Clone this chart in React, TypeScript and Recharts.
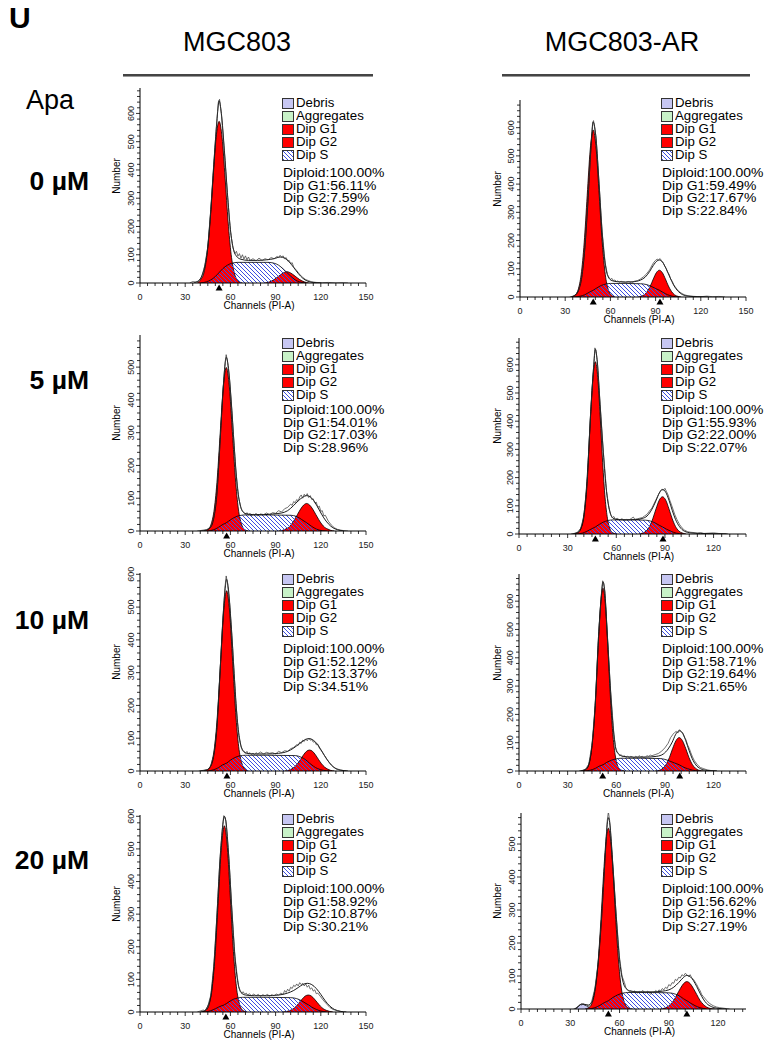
import React from 'react'
import { Area, ComposedChart, Line, ReferenceDot, XAxis, YAxis } from 'recharts'

type Pt = [number, number]

// MGC803, 0 µM  — [channel, count]
const mgc0G1: Pt[] = [[38,0],[40,10],[42.5,38],[44.5,101],[46.5,216],[48.5,371],[50.5,514],[52.5,572],[54.5,514],[56.5,371],[58.5,216],[60.5,101],[62.5,38],[65,8],[68,0]]
const mgc0G2: Pt[] = [[83,0],[86,4],[89,12],[91.5,22],[94,32],[96,38],[97.5,40],[99,38],[101,32],[103.5,22],[106,12],[109,4],[112,0]]
const mgc0S: Pt[] = [[40,0],[44,4],[47,11],[50,23],[52.5,37],[55,51],[58,63],[61,70],[65,73],[75,73],[85,73],[89,70],[92,63],[95,50],[97.5,37],[100,24],[103,11],[106,4],[110,0]]
const mgc0Fit: Pt[] = [[36,2],[39,8],[41,25],[43,60],[45,130],[47,260],[49,420],[51,570],[52.5,645],[54,600],[56,470],[58,320],[60,190],[62,120],[64,95],[67,84],[72,80],[78,80],[84,82],[89,86],[93,92],[96,88],[99,75],[102,55],[105,34],[108,17],[111,7],[115,2],[120,0]]
const mgc0Raw: Pt[] = [[33,0],[35,5],[37,3],[39,8],[41,22],[43,62],[45,128],[47,262],[49,425],[51,575],[52,640],[52.8,650],[54,598],[56,465],[58,315],[60,185],[61.5,128],[63,104],[64,112],[65,95],[66,104],[67,88],[68,100],[69,85],[70,96],[71,82],[72,92],[73,80],[75,86],[77,78],[79,88],[81,80],[83,86],[85,82],[87,90],[89,86],[91,94],[92,90],[93,98],[94,92],[95,96],[96,86],[97,90],[98,78],[99,80],[100,68],[101,72],[102,56],[104,44],[106,30],[108,20],[110,12],[112,8],[114,4],[117,2],[121,1],[125,2],[130,0],[134,1],[138,0]]
const mgc0Marks = [52.5]
const mgc0Stats = ['Diploid:100.00%', 'Dip G1:56.11%', 'Dip G2:7.59%', 'Dip S:36.29%']

// MGC803-AR, 0 µM
const ar0G1: Pt[] = [[34,0],[36.6,7],[38.6,26],[40.6,80],[42.6,192],[44.6,359],[46.6,522],[48.6,592],[50.6,522],[52.6,359],[54.6,192],[56.6,80],[58.6,26],[60.6,7],[63,0]]
const ar0G2: Pt[] = [[78,0],[80.5,3],[82.5,8],[84.5,20],[86.5,39],[88.5,64],[90.5,86],[92.5,95],[94.5,86],[96.5,64],[98.5,39],[100.5,20],[102.5,8],[105,2],[107,0]]
const ar0S: Pt[] = [[36,0],[40,3],[43,8],[46,17],[48.6,24],[51,32],[54,41],[57,46],[60,48],[70,48],[80,47],[84,44],[87,38],[90,30],[92.5,24],[95,16],[98,8],[101,3],[105,0]]
const ar0Fit: Pt[] = [[34,0],[37,8],[39,25],[41,70],[43,170],[45,330],[47,520],[48.6,620],[50.5,560],[52.5,400],[54.5,230],[56.5,120],[58.5,72],[61,58],[65,54],[70,53],[75,54],[80,60],[83,70],[86,90],[88.5,112],[91,128],[92.5,131],[94.5,124],[97,100],[99.5,70],[102,42],[105,20],[108,8],[112,3],[118,1],[125,0]]
const ar0Raw: Pt[] = [[33,0],[35,3],[37,8],[39,25],[41,72],[43,172],[45,335],[47,525],[48.2,618],[48.8,625],[50.5,565],[52.5,400],[54.5,232],[56.5,122],[58,80],[59,70],[60,62],[61,66],[62,58],[63,60],[64,55],[65,57],[66,52],[67,56],[68,54],[70,52],[72,55],[74,50],[76,56],[78,58],[80,64],[82,72],[84,82],[86,96],[88,116],[89,124],[90,130],[91,134],[92,132],[93,136],[94,128],[95,122],[96,110],[97,102],[98,88],[99,80],[100,64],[101,56],[102,44],[103,36],[105,22],[107,14],[109,8],[111,5],[113,3],[116,2],[120,1],[124,3],[128,1],[132,2],[136,0]]
const ar0Marks = [48.6, 92.9]
const ar0Stats = ['Diploid:100.00%', 'Dip G1:59.49%', 'Dip G2:17.67%', 'Dip S:22.84%']

// MGC803, 5 µM
const mgc5G1: Pt[] = [[43,0],[45.3,5],[47.3,22],[49.3,67],[51.3,162],[53.3,303],[55.3,440],[57.3,499],[59.3,440],[61.3,303],[63.3,162],[65.3,67],[67.3,22],[69.3,5],[72,0]]
const mgc5G2: Pt[] = [[92,0],[94.6,2],[96.6,6],[98.6,11],[100.6,21],[102.6,35],[104.6,51],[106.6,67],[108.6,79],[110.6,84],[112.6,79],[114.6,67],[116.6,51],[118.6,35],[120.6,21],[122.6,11],[124.6,6],[126.6,2],[129,0]]
const mgc5S: Pt[] = [[45,0],[49,4],[52,11],[55,20],[57.3,25],[60,34],[63,42],[66,47],[70,49],[85,49],[100,48],[104,44],[107,36],[110.6,25],[114,14],[117,6],[121,1],[124,0]]
const mgc5Fit: Pt[] = [[40,0],[44,3],[47,12],[49,40],[51,110],[53,260],[55,420],[56.5,510],[57.3,530],[58.5,505],[60.5,400],[62.5,260],[64.5,140],[66.5,80],[68.5,58],[71,52],[76,50],[82,50],[88,52],[94,55],[98,62],[102,78],[105,92],[108,103],[110.6,108],[113,104],[116,88],[119,64],[122,40],[125,22],[128,10],[131,4],[135,0]]
const mgc5Raw: Pt[] = [[38,0],[41,2],[44,4],[47,12],[49,42],[51,112],[53,262],[55,425],[56.5,515],[57.2,538],[58,520],[59.5,460],[61.5,330],[63.5,190],[65.5,100],[67,70],[68,60],[69,55],[70,50],[71,56],[72,48],[73,54],[74,45],[75,52],[76,48],[77,54],[78,46],[80,52],[82,50],[84,55],[86,50],[88,56],[90,54],[92,62],[94,58],[96,68],[98,72],[100,82],[101,78],[102,90],[103,86],[104,96],[105,92],[106,104],[107,110],[108,100],[109,112],[110,106],[111,114],[112,102],[113,108],[114,96],[115,98],[116,86],[117,88],[118,72],[119,76],[120,60],[121,62],[122,46],[123,48],[125,30],[127,18],[129,10],[131,5],[134,2],[138,0]]
const mgc5Marks = [57.5]
const mgc5Stats = ['Diploid:100.00%', 'Dip G1:54.01%', 'Dip G2:17.03%', 'Dip S:28.96%']

// MGC803-AR, 5 µM
const ar5G1: Pt[] = [[34,0],[36.6,5],[38.1,18],[39.6,54],[41.1,128],[42.6,254],[44.1,414],[45.6,554],[47.1,611],[48.6,554],[50.1,414],[51.6,254],[53.1,128],[54.6,54],[56.1,18],[57.6,5],[60,0]]
const ar5G2: Pt[] = [[74,0],[76.5,4],[78.5,11],[80.5,27],[82.5,54],[84.5,89],[86.5,120],[88.5,132],[90.5,120],[92.5,89],[94.5,54],[96.5,27],[98.5,11],[100.5,4],[103,0]]
const ar5S: Pt[] = [[36,0],[39,3],[42,10],[45,19],[47.1,25],[49.5,34],[52,42],[55,48],[58,50],[70,50],[78,49],[81,46],[84,39],[86.5,31],[88.5,25],[91,17],[94,9],[97,3],[101,0]]
const ar5Fit: Pt[] = [[33,0],[36,5],[38,18],[40,60],[42,180],[44,410],[46,590],[47.1,655],[48.3,610],[50,460],[52,290],[54,150],[56,80],[58,56],[61,51],[66,50],[72,51],[76,55],[79,64],[82,88],[84.5,118],[86.5,145],[88.5,158],[90.5,148],[92.5,120],[94.5,84],[96.5,52],[99,26],[102,10],[106,4],[112,2],[120,1],[128,0]]
const ar5Raw: Pt[] = [[32,0],[34,2],[36,6],[38,20],[40,62],[42,182],[44,412],[46,592],[46.8,660],[47.4,652],[48.3,612],[50,462],[52,292],[54,152],[55.5,92],[56.5,70],[57.5,58],[58.5,62],[59.5,52],[60.5,56],[62,50],[63.5,54],[65,48],[66.5,52],[68,50],[69.5,56],[70.5,60],[71.5,52],[73,54],[74.5,56],[76,58],[77.5,64],[79,70],[80.5,82],[82,92],[83.5,110],[85,128],[86,140],[87,150],[88,158],[89,155],[90,162],[91,150],[92,138],[93,120],[94.5,96],[96,70],[97.5,50],[99,34],[100.5,22],[102,14],[104,8],[106,6],[108,5],[110,3],[112,5],[114,2],[117,3],[120,4],[123,2],[126,1],[129,0]]
const ar5Marks = [47.1, 88.8]
const ar5Stats = ['Diploid:100.00%', 'Dip G1:55.93%', 'Dip G2:22.00%', 'Dip S:22.07%']

// MGC803, 10 µM
const mgc10G1: Pt[] = [[43,0],[45.5,6],[47.5,25],[49.5,74],[51.5,178],[53.5,333],[55.5,485],[57.5,550],[59.5,485],[61.5,333],[63.5,178],[65.5,74],[67.5,25],[69.5,6],[72,0]]
const mgc10G2: Pt[] = [[96,0],[98.5,2],[100.5,6],[102.5,12],[104.5,22],[106.5,35],[108.5,49],[110.5,60],[112.5,64],[114.5,60],[116.5,49],[118.5,35],[120.5,22],[122.5,12],[124.5,6],[126.5,2],[129,0]]
const mgc10S: Pt[] = [[45,0],[49,4],[52,10],[55,19],[57.5,24],[60,33],[63,41],[66,46],[70,48],[85,48],[103,47],[107,42],[110,34],[112.5,24],[115,15],[118,7],[122,2],[126,0]]
const mgc10Fit: Pt[] = [[40,0],[44,3],[47,15],[49,48],[51,128],[53,290],[55,460],[56.7,565],[57.5,585],[58.5,562],[60.5,448],[62.5,297],[64.5,160],[66.5,88],[68.5,62],[71,54],[76,52],[84,52],[92,54],[98,60],[102,70],[106,84],[109,94],[112,99],[115,94],[118,80],[121,58],[124,36],[127,18],[130,7],[134,2],[138,0]]
const mgc10Raw: Pt[] = [[39,0],[42,2],[45,5],[47,15],[49,50],[51,130],[53,293],[55,465],[56.5,565],[57.2,595],[58,575],[59.5,510],[61.5,375],[63.5,215],[65.5,108],[67,74],[68,62],[69,58],[70,54],[71,60],[72,52],[73,56],[74,50],[75,55],[76,50],[77,56],[78,52],[80,58],[82,52],[84,57],[86,54],[88,56],[90,52],[92,60],[94,56],[96,62],[98,60],[100,68],[102,72],[104,80],[105,78],[106,88],[107,84],[108,94],[109,90],[110,98],[111,92],[112,100],[113,94],[114,96],[115,88],[116,90],[117,80],[118,82],[119,70],[120,64],[121,58],[122,50],[124,36],[126,24],[128,14],[130,8],[133,3],[137,0]]
const mgc10Marks = [57.7]
const mgc10Stats = ['Diploid:100.00%', 'Dip G1:52.12%', 'Dip G2:13.37%', 'Dip S:34.51%']

// MGC803-AR, 10 µM
const ar10G1: Pt[] = [[38,0],[41.3,5],[42.8,19],[44.3,57],[45.8,136],[47.3,269],[48.8,437],[50.3,586],[51.8,646],[53.3,586],[54.8,437],[56.3,269],[57.8,136],[59.3,57],[60.8,19],[62.3,5],[65,0]]
const ar10G2: Pt[] = [[84,0],[86.8,3],[88.8,10],[90.8,24],[92.8,48],[94.8,80],[96.8,107],[98.8,118],[100.8,107],[102.8,80],[104.8,48],[106.8,24],[108.8,10],[110.8,3],[114,0]]
const ar10S: Pt[] = [[40,0],[44,3],[47,9],[49.5,17],[51.8,22],[54,30],[57,38],[60,43],[63,45],[75,45],[87,44],[90,41],[93,35],[96,28],[98.8,22],[101,15],[104,8],[107,3],[111,0]]
const ar10Fit: Pt[] = [[38,0],[41,6],[43,22],[45,90],[47,230],[49,470],[50.8,620],[51.8,668],[52.8,640],[54.5,480],[56.5,280],[58.5,130],[60,72],[61.5,60],[64,52],[70,49],[78,49],[85,52],[89,60],[92,78],[94.5,102],[96.5,128],[98.8,142],[100.8,135],[102.8,108],[104.8,74],[106.8,44],[109,22],[112,8],[116,2],[122,0]]
const ar10Raw: Pt[] = [[37,0],[39,2],[41,6],[43,24],[45,92],[47,232],[49,472],[50.8,625],[51.6,672],[52.2,664],[53,632],[54.5,478],[56.5,282],[58.5,132],[59.5,85],[60.5,68],[61.3,62],[62,54],[63,58],[64,50],[65,54],[66,48],[67,52],[68,48],[69,52],[70,50],[71,46],[72,52],[73,48],[74,54],[75,50],[76,52],[77,48],[78,50],[79,54],[80,52],[81,56],[82,54],[84,58],[86,62],[88,70],[90,82],[92,98],[93.5,118],[95,130],[96,136],[97,140],[98,134],[99,146],[100,140],[101,132],[102,120],[103,110],[104,92],[105,80],[106,64],[107,50],[108,38],[110,22],[112,12],[114,8],[116,4],[118,2],[122,0]]
const ar10Marks = [51.6, 99.1]
const ar10Stats = ['Diploid:100.00%', 'Dip G1:58.71%', 'Dip G2:19.64%', 'Dip S:21.65%']

// MGC803, 20 µM
const mgc20G1: Pt[] = [[41,0],[44,6],[46,25],[48,77],[50,186],[52,347],[54,504],[56,571],[58,504],[60,347],[62,186],[64,77],[66,25],[68,6],[71,0]]
const mgc20G2: Pt[] = [[95,0],[97.7,2],[99.7,5],[101.7,10],[103.7,18],[105.7,29],[107.7,40],[109.7,49],[111.7,52],[113.7,49],[115.7,40],[117.7,29],[119.7,18],[121.7,10],[123.7,5],[125.7,2],[128,0]]
const mgc20S: Pt[] = [[43,0],[47,4],[50,10],[53,17],[56,22],[59,31],[62,39],[65,43],[68,45],[85,45],[100,44],[104,41],[107,35],[109.5,28],[111.7,22],[114,15],[117,8],[120,3],[124,0]]
const mgc20Fit: Pt[] = [[40,0],[43,4],[45,18],[47,50],[49,140],[51,290],[53,460],[55,575],[56,600],[57,585],[59,470],[61,310],[63,170],[65,90],[67,60],[70,52],[76,50],[84,50],[92,52],[98,58],[102,66],[105,75],[108,84],[111,88],[114,84],[117,72],[120,54],[123,34],[126,18],[129,8],[133,2],[137,0]]
const mgc20Raw: Pt[] = [[38,0],[40,3],[42,6],[43,3],[45,18],[47,52],[49,142],[51,292],[53,462],[55,580],[55.6,602],[56.2,598],[57,586],[59,472],[61,312],[63,172],[64.5,110],[65.5,78],[66.5,66],[67.5,58],[68.5,62],[69.5,54],[70.5,58],[71.5,52],[72.5,56],[74,50],[75.5,55],[77,50],[78.5,54],[80,48],[81.5,53],[83,50],[84.5,54],[86,49],[87.5,53],[89,50],[90.5,55],[92,52],[93.5,58],[95,54],[96,66],[97,60],[98,70],[99,64],[100,76],[101,72],[102,82],[103,78],[104,86],[105,80],[106,90],[107,84],[108,88],[109,80],[110,86],[111,76],[112,82],[113,70],[114,74],[115,64],[116,68],[117,56],[118,58],[120,46],[122,34],[124,24],[126,14],[128,8],[131,4],[135,0]]
const mgc20Marks = [57]
const mgc20Stats = ['Diploid:100.00%', 'Dip G1:58.92%', 'Dip G2:10.87%', 'Dip S:30.21%']

// MGC803-AR, 20 µM
const ar20Debris: Pt[] = [[33,0],[35,8],[37,15],[39,12],[41,6],[43,2],[45,0]]
const ar20G1: Pt[] = [[39,0],[41.2,4],[42.7,12],[44.2,33],[45.7,78],[47.2,158],[48.7,272],[50.2,402],[51.7,507],[53.2,548],[54.7,507],[56.2,402],[57.7,272],[59.2,158],[60.7,78],[62.2,33],[63.7,12],[65.2,4],[68,0]]
const ar20G2: Pt[] = [[85,0],[87,2],[89,6],[91,14],[93,26],[95,44],[97,62],[99,77],[101,83],[103,77],[105,62],[107,44],[109,26],[111,14],[113,6],[115,2],[118,0]]
const ar20S: Pt[] = [[41,0],[45,4],[48,11],[51,20],[53.2,25],[56,35],[59,43],[62,48],[65,50],[80,50],[90,49],[94,45],[97,38],[99,31],[101,25],[103.5,17],[106,10],[109,4],[113,0]]
const ar20Fit: Pt[] = [[33,0],[35,8],[37,15],[39,14],[41,12],[43,20],[45,60],[47,140],[49,270],[51,440],[52.5,560],[53.2,580],[54,565],[56,430],[58,280],[60,150],[62,85],[64,62],[67,54],[72,52],[80,52],[86,54],[90,58],[93,66],[96,80],[99,96],[101,102],[103,98],[105,86],[107,68],[109,48],[111,30],[113,17],[116,7],[120,2],[125,0]]
const ar20Raw: Pt[] = [[32,0],[34,4],[35,10],[36,14],[37,12],[38,16],[39,10],[40,13],[41,8],[42,14],[43,22],[45,62],[47,142],[49,272],[51,445],[52.5,570],[53.2,598],[54,570],[56,432],[58,282],[60,155],[61.5,100],[63,80],[64,62],[65,58],[66,52],[67,56],[68,50],[69,55],[70,52],[71,48],[72,54],[73,50],[74,56],[75,52],[76,48],[77,54],[78,50],[79,44],[80,52],[81,48],[82,56],[83,52],[84,58],[85,54],[86,62],[87,58],[88,66],[89,62],[90,74],[91,70],[92,80],[93,78],[94,90],[95,86],[96,96],[97,94],[98,104],[99,100],[100,108],[101,104],[102,98],[103,104],[104,94],[105,90],[106,82],[107,74],[108,64],[109,56],[110,44],[111,38],[113,26],[115,16],[117,10],[119,6],[121,4],[124,2],[127,0]]
const ar20Marks = [53.2, 101]
const ar20Stats = ['Diploid:100.00%', 'Dip G1:56.62%', 'Dip G2:16.19%', 'Dip S:27.19%']

const legendItems = ['Debris', 'Aggregates', 'Dip G1', 'Dip G2', 'Dip S']
const doseLabels = ['0 µM', '5 µM', '10 µM', '20 µM']
const columnTitles = ['MGC803', 'MGC803-AR']

const FONT = '"Liberation Sans", Arial, Helvetica, sans-serif'
const RED = '#ff0000'
const HATCH = '#3c4ee0'
const AXIS_W = 30
const ML = 40
const MT = 6
const MR = 10
const MB = 34

const rowLegendY = [103, 343, 579, 819]
const rowStatsY = [173, 410, 649, 889]
const rowDoseY = [181, 380, 620, 860]
const colLegendX = [282, 661]
const colNumberX = [116, 497]

const PANELS = [
  { id: 'mgc0', col: 0, row: 0, x: 140, y: 88, w: 226, h: 195, xMax: 150, yMax: 690, g1: mgc0G1, g2: mgc0G2, s: mgc0S, fit: mgc0Fit, raw: mgc0Raw, marks: mgc0Marks, stats: mgc0Stats },
  { id: 'ar0', col: 1, row: 0, x: 520, y: 100, w: 226, h: 197, xMax: 150, yMax: 698, g1: ar0G1, g2: ar0G2, s: ar0S, fit: ar0Fit, raw: ar0Raw, marks: ar0Marks, stats: ar0Stats },
  { id: 'mgc5', col: 0, row: 1, x: 140, y: 335, w: 226, h: 196, xMax: 150, yMax: 598, g1: mgc5G1, g2: mgc5G2, s: mgc5S, fit: mgc5Fit, raw: mgc5Raw, marks: mgc5Marks, stats: mgc5Stats },
  { id: 'ar5', col: 1, row: 1, x: 519, y: 338, w: 227, h: 196, xMax: 140, yMax: 695, g1: ar5G1, g2: ar5G2, s: ar5S, fit: ar5Fit, raw: ar5Raw, marks: ar5Marks, stats: ar5Stats },
  { id: 'mgc10', col: 0, row: 2, x: 140, y: 573, w: 226, h: 198, xMax: 150, yMax: 604, g1: mgc10G1, g2: mgc10G2, s: mgc10S, fit: mgc10Fit, raw: mgc10Raw, marks: mgc10Marks, stats: mgc10Stats },
  { id: 'ar10', col: 1, row: 2, x: 519, y: 574, w: 227, h: 197, xMax: 140, yMax: 696, g1: ar10G1, g2: ar10G2, s: ar10S, fit: ar10Fit, raw: ar10Raw, marks: ar10Marks, stats: ar10Stats },
  { id: 'mgc20', col: 0, row: 3, x: 140, y: 815, w: 226, h: 197, xMax: 150, yMax: 604, g1: mgc20G1, g2: mgc20G2, s: mgc20S, fit: mgc20Fit, raw: mgc20Raw, marks: mgc20Marks, stats: mgc20Stats },
  { id: 'ar20', col: 1, row: 3, x: 521, y: 813, w: 225, h: 196, xMax: 137, yMax: 594, g1: ar20G1, g2: ar20G2, s: ar20S, fit: ar20Fit, raw: ar20Raw, marks: ar20Marks, stats: ar20Stats, debris: ar20Debris },
]

const pts = (a: Pt[]) => a.map(([x, y]) => ({ x, y }))
const steps = (max: number, step: number) => {
  const out: number[] = []
  for (let v = 0; v <= max; v += step) out.push(v)
  return out
}

function XTick({ x, y, payload }: any) {
  const v = payload.value
  const major = v % 30 === 0
  return (
    <g>
      <line x1={x} x2={x} y1={y} y2={y + (major ? 4 : 3)} stroke="#000" strokeWidth={0.8} />
      {major && (
        <text x={x} y={y + 16.5} textAnchor="middle" fontSize={9} fill="#222" fontFamily={FONT}>
          {v}
        </text>
      )}
    </g>
  )
}

function YTick({ x, y, payload }: any) {
  const v = payload.value
  const major = v % 100 === 0
  return (
    <g>
      <line x1={x - (major ? 4 : 3)} x2={x} y1={y} y2={y} stroke="#000" strokeWidth={0.8} />
      {major && (
        <text
          transform={`translate(${x - 6.5},${y}) rotate(-90)`}
          textAnchor="middle"
          fontSize={9}
          fill="#222"
          fontFamily={FONT}
        >
          {v}
        </text>
      )}
    </g>
  )
}

function Tri({ cx, cy }: any) {
  return <polygon points={`${cx},${cy + 1.5} ${cx - 3.5},${cy + 7.5} ${cx + 3.5},${cy + 7.5}`} fill="#000" />
}

function Hatch({ id }: { id: string }) {
  return (
    <pattern id={id} patternUnits="userSpaceOnUse" x={0} y={0} width={4} height={4}>
      <path
        d="M-1,-1 L5,5 M-1,3 L1,5 M3,-1 L5,1"
        stroke={HATCH}
        strokeWidth={1}
        fill="none"
        shapeRendering="crispEdges"
      />
    </pattern>
  )
}

function Panel({ p }: { p: (typeof PANELS)[number] }) {
  const hatchId = `hatch-${p.id}`
  return (
    <div style={{ position: 'absolute', left: p.x - ML, top: p.y - MT }}>
      <ComposedChart
        width={p.w + ML + MR}
        height={p.h + MT + MB}
        margin={{ top: MT, right: MR, bottom: MB - AXIS_W, left: ML - AXIS_W }}
      >
        <defs>
          <Hatch id={hatchId} />
        </defs>
        <XAxis
          type="number"
          dataKey="x"
          domain={[0, p.xMax]}
          ticks={steps(p.xMax, 5)}
          interval={0}
          height={AXIS_W}
          tickSize={0}
          tickMargin={0}
          tickLine={false}
          tick={<XTick />}
          axisLine={{ stroke: '#000', strokeWidth: 1 }}
          allowDataOverflow
        />
        <YAxis
          type="number"
          domain={[0, p.yMax]}
          ticks={steps(p.yMax, 20)}
          interval={0}
          width={AXIS_W}
          tickSize={0}
          tickMargin={0}
          tickLine={false}
          tick={<YTick />}
          axisLine={{ stroke: '#000', strokeWidth: 1 }}
          allowDataOverflow
        />
        {p.debris && (
          <Area data={pts(p.debris)} dataKey="y" type="monotone" fill="#c6c6f2" fillOpacity={1} stroke="#000" strokeWidth={0.6} isAnimationActive={false} />
        )}
        <Area data={pts(p.g1)} dataKey="y" type="monotone" fill={RED} fillOpacity={1} stroke="#000" strokeWidth={0.8} isAnimationActive={false} />
        <Area data={pts(p.g2)} dataKey="y" type="monotone" fill={RED} fillOpacity={1} stroke="#000" strokeWidth={0.8} isAnimationActive={false} />
        <Area data={pts(p.s)} dataKey="y" type="monotone" fill={`url(#${hatchId})`} fillOpacity={1} stroke="#000" strokeWidth={0.8} isAnimationActive={false} />
        <Line data={pts(p.fit)} dataKey="y" type="monotone" stroke="#000" strokeWidth={0.9} dot={false} isAnimationActive={false} />
        <Line data={pts(p.raw)} dataKey="y" type="linear" stroke="#333" strokeWidth={0.7} dot={false} isAnimationActive={false} />
        {p.marks.map((m) => (
          <ReferenceDot key={m} x={m} y={0} r={3} shape={<Tri />} ifOverflow="visible" />
        ))}
      </ComposedChart>
    </div>
  )
}

function LegendIcon({ label, uid }: { label: string; uid: string }) {
  const fill =
    label === 'Debris' ? '#c6c6f2' : label === 'Aggregates' ? '#c8f2c8' : label === 'Dip S' ? `url(#${uid})` : RED
  return (
    <svg width={12} height={11} style={{ marginRight: 2, flex: 'none' }}>
      <defs>
        <Hatch id={uid} />
      </defs>
      <rect x={0.5} y={0.5} width={11} height={10} fill={fill} stroke="#333" strokeWidth={1} />
    </svg>
  )
}

function PanelText({ p }: { p: (typeof PANELS)[number] }) {
  const lx = colLegendX[p.col]
  return (
    <>
      {legendItems.map((label, i) => (
        <div
          key={label}
          style={{
            position: 'absolute',
            left: lx,
            top: Math.round(rowLegendY[p.row] + i * 13.2 - 6.5),
            height: 13,
            display: 'flex',
            alignItems: 'center',
            fontSize: 12.5,
            lineHeight: '13px',
            whiteSpace: 'nowrap',
          }}
        >
          <LegendIcon label={label} uid={`lg-${p.id}-${i}`} />
          <span style={{ display: 'inline-block', transform: 'scaleX(1.06)', transformOrigin: 'left center' }}>{label}</span>
        </div>
      ))}
      {p.stats.map((s, i) => (
        <div
          key={s}
          style={{
            position: 'absolute',
            left: lx + 1,
            top: rowStatsY[p.row] + i * 12.5 - 6,
            fontSize: 12,
            lineHeight: '12px',
            whiteSpace: 'nowrap',
            transform: 'scaleX(1.16)',
            transformOrigin: 'left center',
          }}
        >
          {s}
        </div>
      ))}
      <div
        style={{
          position: 'absolute',
          left: colNumberX[p.col],
          top: p.y + p.h * 0.45,
          transform: 'translate(-50%,-50%) rotate(-90deg)',
          fontSize: 10,
          whiteSpace: 'nowrap',
        }}
      >
        Number
      </div>
      <div
        style={{
          position: 'absolute',
          left: p.x + p.w / 2 + 6,
          top: p.y + p.h + 22,
          transform: 'translate(-50%,-50%)',
          fontSize: 10,
          whiteSpace: 'nowrap',
        }}
      >
        Channels (PI-A)
      </div>
    </>
  )
}

export default function App() {
  return (
    <div
      style={{
        position: 'absolute',
        left: 0,
        top: 0,
        width: 765,
        height: 1050,
        background: '#fff',
        fontFamily: FONT,
        color: '#000',
        overflow: 'hidden',
      }}
    >
      <div style={{ position: 'absolute', left: 9, top: 1, fontSize: 30, fontWeight: 'bold' }}>U</div>
      {columnTitles.map((t, i) => (
        <div
          key={t}
          style={{
            position: 'absolute',
            left: i === 0 ? 237 : 622,
            top: 42,
            transform: 'translate(-50%,-50%)',
            fontSize: 27,
            whiteSpace: 'nowrap',
          }}
        >
          {t}
        </div>
      ))}
      <div style={{ position: 'absolute', left: 123, top: 74, width: 250, height: 2, background: '#444', borderBottom: '1px solid #999' }} />
      <div style={{ position: 'absolute', left: 502, top: 74, width: 248, height: 2, background: '#444', borderBottom: '1px solid #999' }} />
      <div style={{ position: 'absolute', left: 26, top: 100, transform: 'translateY(-50%)', fontSize: 27 }}>Apa</div>
      {doseLabels.map((d, i) => (
        <div
          key={d}
          style={{
            position: 'absolute',
            right: 765 - 89,
            top: rowDoseY[i],
            transform: 'translateY(-50%)',
            fontSize: 26.5,
            fontWeight: 'bold',
            whiteSpace: 'nowrap',
          }}
        >
          {d}
        </div>
      ))}
      {PANELS.map((p) => (
        <Panel key={p.id} p={p} />
      ))}
      {PANELS.map((p) => (
        <PanelText key={p.id} p={p} />
      ))}
    </div>
  )
}
